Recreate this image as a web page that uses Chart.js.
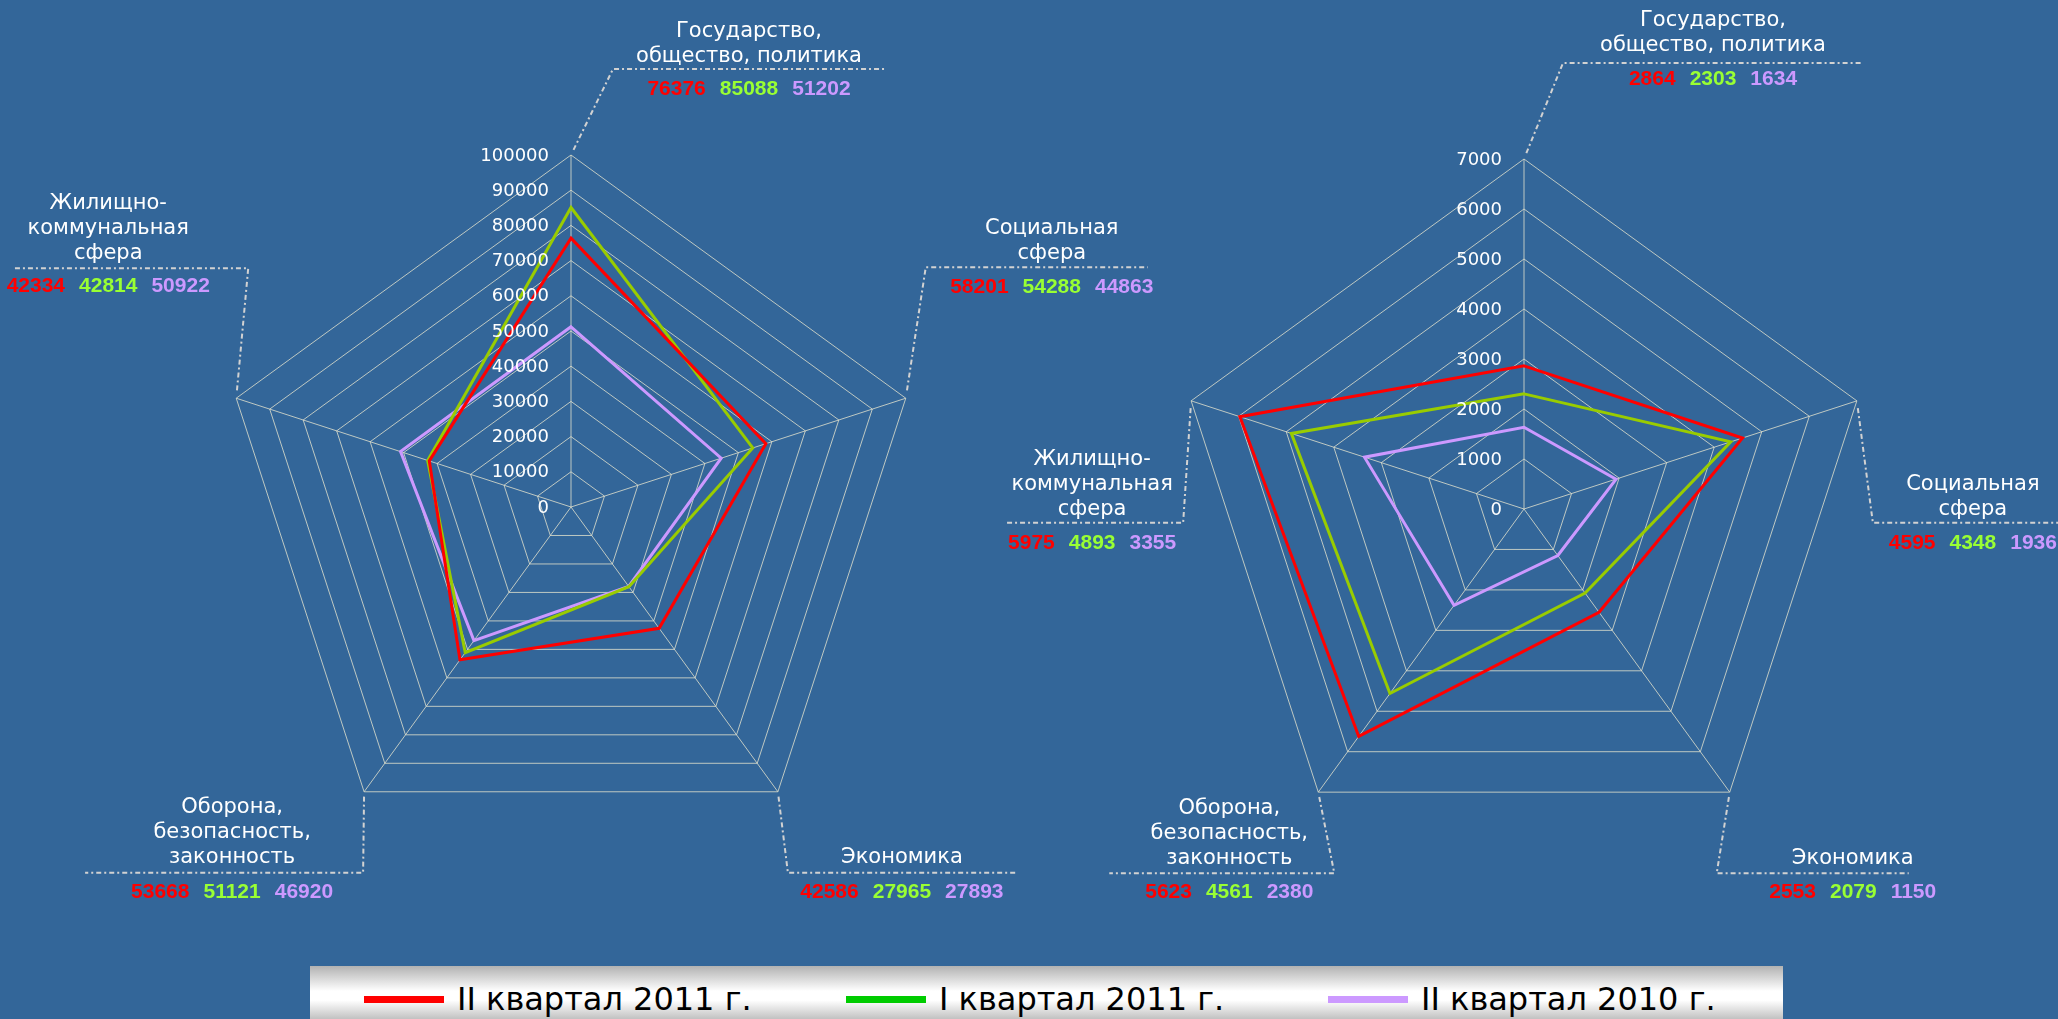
<!DOCTYPE html>
<html>
<head>
<meta charset="utf-8">
<script src="https://cdn.jsdelivr.net/npm/chart.js@4.4.1/dist/chart.umd.min.js"></script>
<style>
  html, body { margin: 0; padding: 0; background: #336699; width: 2058px; height: 1019px; overflow: hidden; }
  canvas { position: absolute; left: 0; top: 0; }
  #legend {
    position: absolute; left: 310px; top: 966px; width: 1473px; height: 66px;
    box-sizing: border-box; padding-left: 54px;
    background: linear-gradient(#b2b2b2 0%, #ffffff 38%, #ffffff 52%, #c2c2c2 80%, #b8b8b8 100%);
    display: flex; align-items: center;
    font-family: "DejaVu Sans", sans-serif; font-size: 32px; color: #000;
  }
  .item { display: flex; align-items: center; width: 482px; flex: none; }
  .swatch { width: 80px; height: 7px; margin-right: 13px; }
</style>
</head>
<body>
<canvas id="left" width="2058" height="1019"></canvas>
<canvas id="right" width="2058" height="1019"></canvas>
<div id="legend"></div>
<script>
// categories (clockwise from top)
const categories = [
  ['Государство,', 'общество, политика'],
  ['Социальная', 'сфера'],
  ['Экономика'],
  ['Оборона,', 'безопасность,', 'законность'],
  ['Жилищно-', 'коммунальная', 'сфера']
]
const seriesNames = ['II квартал 2011 г.', 'I квартал 2011 г.', 'II квартал 2010 г.']

// left chart
const leftQ2y2011 = [76376, 58201, 42586, 53668, 42334]
const leftQ1y2011 = [85088, 54288, 27965, 51121, 42814]
const leftQ2y2010 = [51202, 44863, 27893, 46920, 50922]
const leftTicks = [0, 10000, 20000, 30000, 40000, 50000, 60000, 70000, 80000, 90000, 100000]

// right chart
const rightQ2y2011 = [2864, 4595, 2553, 5623, 5975]
const rightQ1y2011 = [2303, 4348, 2079, 4561, 4893]
const rightQ2y2010 = [1634, 1936, 1150, 2380, 3355]
const rightTicks = [0, 1000, 2000, 3000, 4000, 5000, 6000, 7000]

// styles
const lineColors = ['#ff0000', '#99cc00', '#cc99ff']
const valueColors = ['#ff0000', '#99ff33', '#cc99ff']
const legendColors = ['#ff0000', '#00cc00', '#cc99ff']
const gridColor = 'rgba(225,225,205,0.8)'

// callout geometry, relative to the outer vertex of each axis
const leftCallouts = [
  {dx: 42, dy: -86, x1: 316, cx: 178, ty: -12, vy: 20},
  {dx: 20, dy: -131, x1: 242, cx: 146, ty: -14, vy: 20},
  {dx: 10, dy: 81, x1: 239, cx: 124, ty: -15, vy: 19},
  {dx: -1, dy: 81, x1: -279, cx: -132, ty: -15, vy: 19},
  {dx: 12, dy: -130, x1: -224, cx: -128, ty: -15, vy: 18}
]
const rightCallouts = [
  {dx: 39, dy: -96, x1: 339, cx: 189, ty: -17, vy: 16},
  {dx: 16, dy: 122, x1: 210, cx: 116, ty: -13, vy: 20},
  {dx: -13, dy: 81, x1: 179, cx: 123, ty: -15, vy: 19},
  {dx: 16, dy: 81, x1: -209, cx: -89, ty: -15, vy: 19},
  {dx: -8, dy: 122, x1: -186, cx: -99, ty: -13, vy: 20}
]

const calloutPlugin = {
  id: 'callouts',
  afterDraw(chart, args, opts) {
    const scale = chart.scales.r
    const ctx = chart.ctx
    ctx.save()

    // tick labels, right aligned left of the vertical axis
    ctx.font = '18px "DejaVu Sans"'
    ctx.fillStyle = '#ffffff'
    ctx.textAlign = 'right'
    ctx.textBaseline = 'middle'
    scale.ticks.forEach(t => {
      const d = scale.getDistanceFromCenterForValue(t.value)
      ctx.fillText(String(t.value), scale.xCenter - 22, scale.yCenter - d + 1)
    })

    // callout lines, category names and values
    chart.data.labels.forEach((lab, i) => {
      const v = scale.getPointPosition(i, scale.drawingArea)
      const c = opts.layout[i]
      const ex = v.x + c.dx, ey = v.y + c.dy
      ctx.setLineDash([5, 3, 2, 3])
      ctx.strokeStyle = '#d2d2d2'
      ctx.lineWidth = 2
      ctx.beginPath()
      ctx.moveTo(v.x + c.dx * 0.06, v.y + c.dy * 0.06)
      ctx.lineTo(ex, ey)
      ctx.lineTo(v.x + c.x1, ey)
      ctx.stroke()
      ctx.setLineDash([])

      ctx.font = '21px "DejaVu Sans"'
      ctx.fillStyle = '#ffffff'
      ctx.textAlign = 'center'
      const n = lab.length
      lab.forEach((line, k) => {
        ctx.fillText(line, v.x + c.cx, ey + c.ty - (n - 1 - k) * 25)
      })

      ctx.font = 'bold 21px "Liberation Sans"'
      ctx.textAlign = 'left'
      const vals = chart.data.datasets.map(ds => String(ds.data[i]))
      const widths = vals.map(s => ctx.measureText(s).width)
      const gap = 14
      const total = widths.reduce((a, b) => a + b, 0) + gap * (vals.length - 1)
      let x = v.x + c.cx - total / 2
      vals.forEach((s, k) => {
        ctx.fillStyle = valueColors[k]
        ctx.fillText(s, x, ey + c.vy)
        x += widths[k] + gap
      })
    })
    ctx.restore()
  }
}

function makeRadar(id, series, ticks, padding, layout) {
  return new Chart(document.getElementById(id), {
    type: 'radar',
    data: {
      labels: categories,
      datasets: series.map((d, k) => ({
        label: seriesNames[k],
        data: d,
        borderColor: lineColors[k],
        borderWidth: 3,
        fill: false,
        pointRadius: 0,
        tension: 0
      }))
    },
    options: {
      responsive: false,
      animation: false,
      devicePixelRatio: 1,
      layout: {padding: padding},
      plugins: {
        legend: {display: false},
        tooltip: {enabled: false},
        callouts: {layout: layout}
      },
      scales: {
        r: {
          min: ticks[0],
          max: ticks[ticks.length - 1],
          afterBuildTicks: s => { s.ticks = ticks.map(v => ({value: v})) },
          ticks: {display: false},
          pointLabels: {display: false},
          grid: {color: gridColor, lineWidth: 1},
          angleLines: {color: gridColor, lineWidth: 1}
        }
      }
    },
    plugins: [calloutPlugin]
  })
}

makeRadar('left', [leftQ2y2011, leftQ1y2011, leftQ2y2010], leftTicks,
  {left: 219, top: 155, right: 1135, bottom: 160}, leftCallouts)
makeRadar('right', [rightQ2y2011, rightQ1y2011, rightQ2y2010], rightTicks,
  {left: 1174, top: 159, right: 184, bottom: 160}, rightCallouts)

// shared legend
const legend = document.getElementById('legend')
seriesNames.forEach((name, k) => {
  const item = document.createElement('div')
  item.className = 'item'
  const sw = document.createElement('div')
  sw.className = 'swatch'
  sw.style.background = legendColors[k]
  const tx = document.createElement('span')
  tx.textContent = name
  item.append(sw, tx)
  legend.append(item)
})
</script>
</body>
</html>
